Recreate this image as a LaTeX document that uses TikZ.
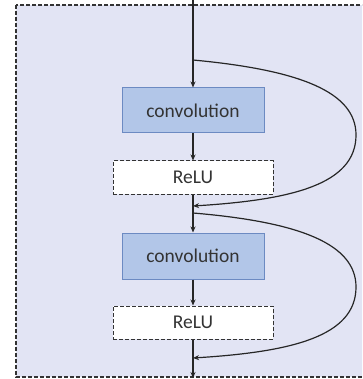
\documentclass[tikz,border=0pt]{standalone}
\usepackage{fontspec}
\setmainfont{Carlito}
\usetikzlibrary{arrows.meta}
\definecolor{bgc}{HTML}{E2E4F4}
\definecolor{convfill}{HTML}{B2C6E8}
\definecolor{convdraw}{HTML}{6C8AC2}
\definecolor{txt}{HTML}{333333}
\begin{document}
\begin{tikzpicture}[x=1pt,y=-1pt,
  conn/.style={line width=1.2pt,draw=black!85,-{Stealth[length=6pt,width=5pt]}},
  curv/.style={line width=1.2pt,draw=black!85,-{Stealth[length=6pt,width=5pt]}},
  convbox/.style={draw=convdraw,fill=convfill,line width=1pt,minimum width=142pt,minimum height=45pt,inner sep=0pt,text=txt,font=\fontsize{19.5}{22}\selectfont},
  relubox/.style={draw=black!80,fill=white,dashed,dash pattern=on 4pt off 2pt,line width=1pt,minimum width=160pt,minimum height=33pt,inner sep=0pt,text=txt,font=\fontsize{19.5}{22}\selectfont}]
\useasboundingbox (0,0) rectangle (362,379);
\begin{scope}
\clip (0,0) rectangle (362,379);
\draw[fill=bgc,draw=black!80,line width=1.2pt,dash pattern=on 4pt off 2pt] (16,5) rectangle (380,377);
\end{scope}
\node[convbox] (conv1) at (193,110.5) {convolution};
\node[relubox] (relu1) at (193,177.5) {ReLU};
\node[convbox,minimum height=46pt] (conv2) at (193,256) {convolution};
\node[relubox] (relu2) at (193,322.5) {ReLU};
\coordinate (top) at (193,0);
\coordinate (j1) at (193,60);
\coordinate (m1) at (193,206);
\coordinate (b2) at (193,213);
\coordinate (m2) at (193,358);
\coordinate (bot) at (193,378);
\draw[conn] (top) -- (conv1.north);
\draw[conn] (conv1.south) -- (relu1.north);
\draw[conn] (relu1.south) -- (conv2.north);
\draw[conn] (conv2.south) -- (relu2.north);
\draw[conn] (relu2.south) -- (bot);
\draw[curv] (j1) .. controls (300,70) and (356,92) .. (356,135) .. controls (356,185) and (290,200) .. (m1);
\draw[curv] (b2) .. controls (300,222) and (356,244) .. (356,287) .. controls (356,337) and (290,352) .. (m2);
\end{tikzpicture}
\end{document}
